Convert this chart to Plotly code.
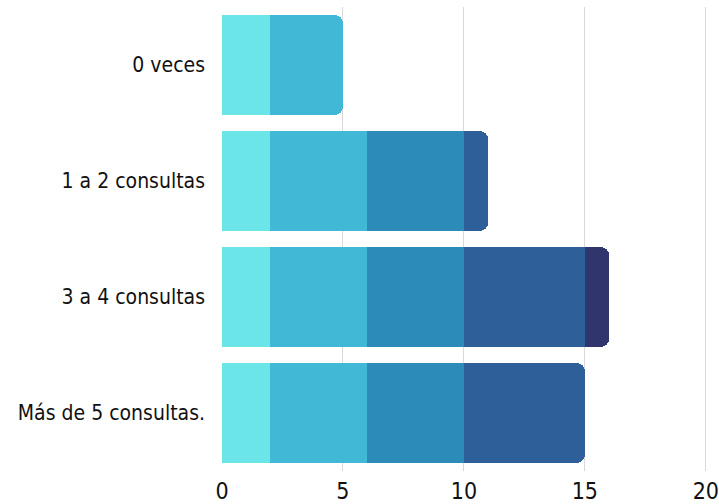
import plotly.graph_objects as go

categories = ["0 veces", "1 a 2 consultas", "3 a 4 consultas", "Más de 5 consultas."]
series1 = [2, 2, 2, 2]
series2 = [3, 4, 4, 4]
series3 = [0, 4, 4, 4]
series4 = [0, 1, 5, 5]
series5 = [0, 0, 1, 0]
colors = ["#6ce5e8", "#41b8d5", "#2d8bba", "#2f5f98", "#31356e"]
x_ticks = [0, 5, 10, 15, 20]

fig = go.Figure()
for vals, col in zip([series1, series2, series3, series4, series5], colors):
    fig.add_trace(go.Bar(
        y=categories, x=vals, orientation="h",
        marker=dict(color=col, line=dict(width=0)),
        showlegend=False, hoverinfo="skip",
    ))

FONT = "DejaVu Sans Condensed, Liberation Sans Narrow, sans-serif"
fig.update_layout(
    barmode="stack",
    barcornerradius=8,
    bargap=0.14,
    width=719, height=504,
    margin=dict(l=222, r=12, t=7, b=33, autoexpand=False),
    plot_bgcolor="white", paper_bgcolor="white",
    font=dict(family=FONT, size=20, color="#111111"),
    xaxis=dict(range=[0, 20.05], tickvals=x_ticks, showgrid=True,
               gridcolor="#d9d9d9", gridwidth=1, zeroline=False,
               ticks="", tickfont=dict(size=23), ticklabelstandoff=4,
               automargin=False),
    yaxis=dict(autorange="reversed", ticks="", showgrid=False,
               ticklabelstandoff=16, tickfont=dict(size=21),
               automargin=False),
)
fig.write_html("out.html", config={"displayModeBar": False},
               post_script="document.body.style.margin='0px';document.body.style.overflow='hidden';")
